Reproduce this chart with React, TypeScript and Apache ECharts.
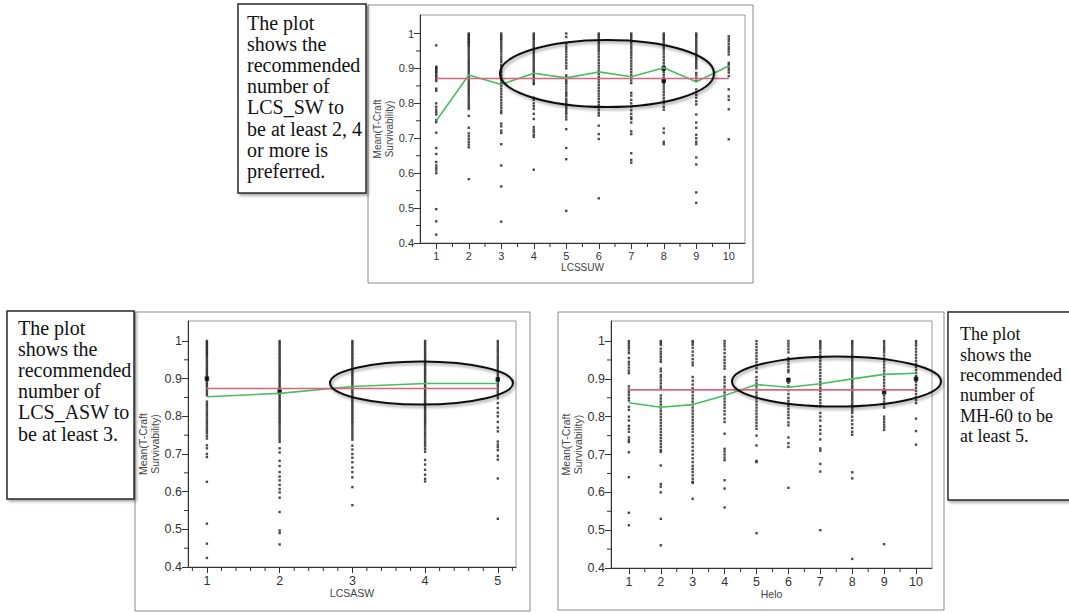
import React, { useEffect, useRef } from 'react';
import * as echarts from 'echarts';

// ---------- DATA ----------
const yMajorTicks = [0.4, 0.5, 0.6, 0.7, 0.8, 0.9, 1.0];
const yMinorTicks = [0.45, 0.55, 0.65, 0.75, 0.85, 0.95];

// Chart 1: LCSSUW
const lcssuwCats = [1, 2, 3, 4, 5, 6, 7, 8, 9, 10];
const lcssuwMinorTicks = [1.5, 2.5, 3.5, 4.5, 5.5, 6.5, 7.5, 8.5, 9.5];
const lcssuwCols = [
  [0.966, 0.905, 0.902, 0.898, 0.894, 0.89, 0.886, 0.88, 0.876, 0.87, 0.864, 0.842, 0.836, 0.8, 0.79, 0.782, 0.775, 0.768, 0.752, 0.746, 0.716, 0.672, 0.655, 0.632, 0.622, 0.615, 0.608, 0.6, 0.497, 0.462, 0.424],
  [1.0, 0.996, 0.992, 0.988, 0.984, 0.98, 0.976, 0.972, 0.968, 0.964, 0.958, 0.952, 0.946, 0.94, 0.934, 0.928, 0.922, 0.916, 0.91, 0.904, 0.898, 0.892, 0.886, 0.88, 0.874, 0.868, 0.862, 0.856, 0.85, 0.844, 0.838, 0.832, 0.826, 0.82, 0.814, 0.808, 0.802, 0.796, 0.79, 0.784, 0.764, 0.73, 0.714, 0.706, 0.698, 0.69, 0.682, 0.674, 0.583],
  [1.0, 0.995, 0.99, 0.985, 0.98, 0.974, 0.968, 0.962, 0.955, 0.948, 0.94, 0.932, 0.925, 0.918, 0.91, 0.904, 0.897, 0.89, 0.882, 0.874, 0.866, 0.858, 0.85, 0.842, 0.834, 0.826, 0.818, 0.81, 0.802, 0.794, 0.786, 0.778, 0.772, 0.742, 0.734, 0.722, 0.715, 0.683, 0.622, 0.562, 0.461],
  [1.0, 0.995, 0.99, 0.985, 0.98, 0.974, 0.968, 0.962, 0.956, 0.95, 0.944, 0.938, 0.932, 0.926, 0.92, 0.914, 0.908, 0.902, 0.896, 0.89, 0.884, 0.878, 0.872, 0.866, 0.86, 0.855, 0.816, 0.81, 0.8, 0.792, 0.784, 0.77, 0.755, 0.732, 0.725, 0.718, 0.71, 0.704, 0.61],
  [1.0, 0.99, 0.97, 0.962, 0.955, 0.948, 0.94, 0.932, 0.924, 0.916, 0.908, 0.9, 0.88, 0.874, 0.868, 0.862, 0.856, 0.848, 0.84, 0.832, 0.826, 0.82, 0.812, 0.806, 0.8, 0.794, 0.788, 0.782, 0.776, 0.77, 0.762, 0.754, 0.726, 0.672, 0.64, 0.492],
  [1.0, 0.995, 0.99, 0.984, 0.978, 0.972, 0.966, 0.96, 0.954, 0.948, 0.94, 0.932, 0.924, 0.916, 0.908, 0.9, 0.892, 0.884, 0.876, 0.868, 0.86, 0.852, 0.844, 0.836, 0.828, 0.82, 0.812, 0.804, 0.796, 0.788, 0.78, 0.772, 0.765, 0.736, 0.712, 0.698, 0.528],
  [1.0, 0.995, 0.99, 0.984, 0.978, 0.972, 0.965, 0.958, 0.951, 0.944, 0.937, 0.93, 0.922, 0.914, 0.906, 0.898, 0.89, 0.882, 0.874, 0.866, 0.858, 0.83, 0.822, 0.81, 0.8, 0.79, 0.78, 0.77, 0.76, 0.755, 0.745, 0.72, 0.712, 0.657, 0.638, 0.63],
  [1.0, 0.995, 0.99, 0.985, 0.98, 0.974, 0.968, 0.962, 0.955, 0.948, 0.94, 0.932, 0.924, 0.916, 0.908, 0.9, 0.896, 0.89, 0.882, 0.874, 0.866, 0.862, 0.856, 0.848, 0.84, 0.832, 0.824, 0.816, 0.808, 0.8, 0.79, 0.782, 0.728, 0.716, 0.69, 0.683],
  [1.0, 0.995, 0.99, 0.984, 0.978, 0.972, 0.966, 0.96, 0.954, 0.948, 0.942, 0.936, 0.93, 0.924, 0.918, 0.912, 0.906, 0.9, 0.887, 0.88, 0.872, 0.864, 0.84, 0.832, 0.824, 0.816, 0.806, 0.797, 0.768, 0.745, 0.73, 0.71, 0.7, 0.69, 0.683, 0.645, 0.625, 0.545, 0.515],
  [0.992, 0.985, 0.978, 0.97, 0.962, 0.955, 0.948, 0.94, 0.916, 0.91, 0.902, 0.895, 0.888, 0.878, 0.84, 0.82, 0.81, 0.783, 0.697],
];
const lcssuwHeavyX = [8, 8];
const lcssuwHeavyY = [0.9, 0.865];
const lcssuwMeans = [0.75, 0.881, 0.854, 0.886, 0.873, 0.89, 0.876, 0.902, 0.862, 0.907];
const lcssuwOverall = 0.871;

// Chart 2: LCSASW
const lcsaswCats = [1, 2, 3, 4, 5];
const lcsaswMinorTicks = [0.8, 1.2, 1.4, 1.6, 1.8, 2.2, 2.4, 2.6, 2.8, 3.2, 3.4, 3.6, 3.8, 4.2, 4.4, 4.6, 4.8, 5.2];
const lcsaswCols = [
  [1.0, 0.996, 0.992, 0.988, 0.984, 0.98, 0.976, 0.972, 0.968, 0.964, 0.96, 0.955, 0.95, 0.945, 0.94, 0.935, 0.93, 0.925, 0.92, 0.915, 0.91, 0.905, 0.9, 0.895, 0.89, 0.885, 0.88, 0.874, 0.868, 0.862, 0.856, 0.839, 0.833, 0.827, 0.821, 0.815, 0.809, 0.803, 0.797, 0.791, 0.785, 0.779, 0.773, 0.767, 0.761, 0.755, 0.748, 0.741, 0.723, 0.715, 0.7, 0.692, 0.626, 0.515, 0.462, 0.424],
  [1.0, 0.995, 0.99, 0.985, 0.98, 0.975, 0.97, 0.965, 0.96, 0.955, 0.95, 0.945, 0.94, 0.935, 0.93, 0.925, 0.92, 0.915, 0.91, 0.905, 0.9, 0.895, 0.89, 0.885, 0.88, 0.875, 0.87, 0.865, 0.86, 0.855, 0.85, 0.845, 0.84, 0.835, 0.83, 0.825, 0.82, 0.815, 0.81, 0.805, 0.8, 0.795, 0.79, 0.785, 0.78, 0.774, 0.768, 0.762, 0.756, 0.75, 0.744, 0.738, 0.732, 0.715, 0.704, 0.682, 0.668, 0.652, 0.64, 0.63, 0.618, 0.607, 0.598, 0.584, 0.546, 0.497, 0.49, 0.46],
  [1.0, 0.995, 0.99, 0.985, 0.98, 0.975, 0.97, 0.965, 0.96, 0.955, 0.95, 0.945, 0.94, 0.935, 0.93, 0.925, 0.92, 0.915, 0.91, 0.905, 0.9, 0.895, 0.89, 0.885, 0.88, 0.875, 0.87, 0.865, 0.86, 0.855, 0.85, 0.845, 0.84, 0.835, 0.83, 0.825, 0.82, 0.815, 0.81, 0.805, 0.8, 0.795, 0.79, 0.785, 0.78, 0.774, 0.768, 0.762, 0.756, 0.75, 0.744, 0.738, 0.722, 0.712, 0.7, 0.69, 0.678, 0.664, 0.652, 0.638, 0.612, 0.564],
  [1.0, 0.995, 0.99, 0.985, 0.98, 0.975, 0.97, 0.965, 0.96, 0.955, 0.95, 0.945, 0.94, 0.935, 0.93, 0.925, 0.92, 0.915, 0.91, 0.905, 0.9, 0.895, 0.89, 0.885, 0.88, 0.875, 0.87, 0.865, 0.86, 0.855, 0.85, 0.845, 0.84, 0.835, 0.83, 0.825, 0.82, 0.815, 0.81, 0.805, 0.8, 0.795, 0.79, 0.785, 0.78, 0.774, 0.768, 0.762, 0.756, 0.75, 0.744, 0.738, 0.732, 0.726, 0.72, 0.713, 0.706, 0.684, 0.672, 0.658, 0.645, 0.634, 0.627],
  [1.0, 0.994, 0.988, 0.982, 0.976, 0.97, 0.964, 0.958, 0.952, 0.946, 0.94, 0.934, 0.928, 0.922, 0.916, 0.91, 0.904, 0.898, 0.892, 0.886, 0.88, 0.874, 0.868, 0.862, 0.855, 0.848, 0.835, 0.822, 0.81, 0.8, 0.785, 0.77, 0.76, 0.733, 0.725, 0.718, 0.71, 0.695, 0.685, 0.635, 0.528],
];
const lcsaswHeavyX = [1, 2, 5];
const lcsaswHeavyY = [0.9, 0.865, 0.898];
const lcsaswMeans = [0.852, 0.861, 0.879, 0.887, 0.887];
const lcsaswOverall = 0.874;

// Chart 3: Helo
const heloCats = [1, 2, 3, 4, 5, 6, 7, 8, 9, 10];
const heloMinorTicks = [1.5, 2.5, 3.5, 4.5, 5.5, 6.5, 7.5, 8.5, 9.5];
const heloCols = [
  [1.0, 0.994, 0.988, 0.982, 0.975, 0.968, 0.955, 0.945, 0.938, 0.93, 0.922, 0.915, 0.88, 0.872, 0.865, 0.858, 0.85, 0.843, 0.826, 0.818, 0.8, 0.79, 0.776, 0.768, 0.76, 0.745, 0.738, 0.733, 0.706, 0.64, 0.546, 0.513],
  [1.0, 0.995, 0.99, 0.98, 0.972, 0.965, 0.958, 0.951, 0.945, 0.927, 0.92, 0.91, 0.904, 0.896, 0.888, 0.88, 0.874, 0.856, 0.848, 0.84, 0.832, 0.824, 0.816, 0.808, 0.8, 0.792, 0.784, 0.776, 0.768, 0.76, 0.752, 0.744, 0.736, 0.728, 0.72, 0.712, 0.707, 0.671, 0.622, 0.615, 0.6, 0.53, 0.46],
  [1.0, 0.996, 0.99, 0.982, 0.972, 0.962, 0.952, 0.943, 0.936, 0.905, 0.895, 0.885, 0.875, 0.865, 0.856, 0.848, 0.84, 0.832, 0.824, 0.816, 0.808, 0.8, 0.792, 0.784, 0.776, 0.768, 0.76, 0.75, 0.74, 0.73, 0.72, 0.71, 0.7, 0.69, 0.68, 0.67, 0.662, 0.654, 0.645, 0.636, 0.628, 0.625, 0.583],
  [1.0, 0.993, 0.986, 0.978, 0.968, 0.958, 0.95, 0.942, 0.934, 0.927, 0.905, 0.897, 0.889, 0.88, 0.872, 0.864, 0.856, 0.848, 0.84, 0.832, 0.824, 0.815, 0.806, 0.795, 0.786, 0.755, 0.715, 0.708, 0.7, 0.692, 0.685, 0.632, 0.61, 0.56],
  [1.0, 0.992, 0.984, 0.976, 0.968, 0.96, 0.952, 0.944, 0.936, 0.928, 0.918, 0.905, 0.896, 0.888, 0.88, 0.872, 0.864, 0.856, 0.848, 0.84, 0.832, 0.824, 0.816, 0.808, 0.8, 0.792, 0.784, 0.776, 0.768, 0.75, 0.724, 0.683, 0.68, 0.492],
  [1.0, 0.993, 0.986, 0.978, 0.97, 0.955, 0.948, 0.94, 0.932, 0.924, 0.918, 0.9, 0.89, 0.88, 0.87, 0.86, 0.85, 0.842, 0.835, 0.828, 0.82, 0.812, 0.804, 0.796, 0.785, 0.777, 0.745, 0.73, 0.72, 0.612],
  [1.0, 0.995, 0.99, 0.984, 0.978, 0.97, 0.962, 0.955, 0.948, 0.94, 0.932, 0.924, 0.916, 0.908, 0.9, 0.892, 0.884, 0.876, 0.868, 0.86, 0.852, 0.844, 0.836, 0.828, 0.81, 0.8, 0.79, 0.775, 0.765, 0.755, 0.74, 0.716, 0.71, 0.675, 0.655, 0.5],
  [1.0, 0.995, 0.99, 0.984, 0.978, 0.972, 0.966, 0.96, 0.954, 0.948, 0.942, 0.936, 0.93, 0.924, 0.918, 0.912, 0.906, 0.9, 0.894, 0.888, 0.882, 0.876, 0.87, 0.864, 0.858, 0.852, 0.846, 0.84, 0.834, 0.828, 0.822, 0.816, 0.81, 0.8, 0.79, 0.78, 0.77, 0.76, 0.752, 0.653, 0.637, 0.424],
  [1.0, 0.994, 0.988, 0.982, 0.976, 0.97, 0.962, 0.954, 0.946, 0.938, 0.93, 0.922, 0.914, 0.906, 0.898, 0.89, 0.882, 0.874, 0.865, 0.856, 0.848, 0.84, 0.832, 0.824, 0.8, 0.793, 0.786, 0.779, 0.772, 0.765, 0.463],
  [1.0, 0.994, 0.988, 0.98, 0.972, 0.964, 0.956, 0.948, 0.94, 0.932, 0.924, 0.916, 0.908, 0.9, 0.892, 0.884, 0.876, 0.868, 0.86, 0.852, 0.844, 0.836, 0.795, 0.762, 0.726],
];
const heloHeavyX = [6, 9, 10];
const heloHeavyY = [0.897, 0.865, 0.9];
const heloMeans = [0.837, 0.825, 0.832, 0.856, 0.885, 0.878, 0.887, 0.9, 0.912, 0.915];
const heloOverall = 0.871;

const yTitle = 'Mean(T-Craft\nSurvivability)';
const note1 = 'The plot\nshows the\nrecommended\nnumber of\nLCS_SW to\nbe at least 2, 4\nor more is\npreferred.';
const note2 = 'The plot\nshows the\nrecommended\nnumber of\nLCS_ASW to\nbe at least 3.';
const note3 = 'The plot\nshows the\nrecommended\nnumber of\nMH-60 to be\nat least 5.';

// ---------- STYLE / LAYOUT ----------
const GREEN = '#45c060';
const RED = '#e0627c';
const DOT = '#1c1c1c';
const AXIS = '#333333';
const SANS = '"Liberation Sans", Arial, sans-serif';
const SERIF = '"Liberation Serif", "Times New Roman", serif';
const Y_MIN = 0.4;
const Y_MAX = 1.053;
const MINOR_LEN = 4;

interface PanelCfg {
  cats: number[];
  minor: number[];
  cols: number[][];
  heavyX: number[];
  heavyY: number[];
  means: number[];
  overall: number;
  xName: string;
  grid: { left: number; top: number; width: number; height: number };
  xMin: number;
  xMax: number;
  tickFont: number;
  titleFont: number;
  yGap: number;
  xGap: number;
}

const panels: PanelCfg[] = [
  {
    cats: lcssuwCats, minor: lcssuwMinorTicks, cols: lcssuwCols, heavyX: lcssuwHeavyX, heavyY: lcssuwHeavyY,
    means: lcssuwMeans, overall: lcssuwOverall, xName: 'LCSSUW',
    grid: { left: 420, top: 15, width: 325, height: 228 }, xMin: 0.5, xMax: 10.5,
    tickFont: 11, titleFont: 10, yGap: 22, xGap: 19,
  },
  {
    cats: lcsaswCats, minor: lcsaswMinorTicks, cols: lcsaswCols, heavyX: lcsaswHeavyX, heavyY: lcsaswHeavyY,
    means: lcsaswMeans, overall: lcsaswOverall, xName: 'LCSASW',
    grid: { left: 188, top: 321, width: 328, height: 246 }, xMin: 0.74, xMax: 5.25,
    tickFont: 12.5, titleFont: 10.5, yGap: 19, xGap: 18,
  },
  {
    cats: heloCats, minor: heloMinorTicks, cols: heloCols, heavyX: heloHeavyX, heavyY: heloHeavyY,
    means: heloMeans, overall: heloOverall, xName: 'Helo',
    grid: { left: 611, top: 321, width: 321, height: 247 }, xMin: 0.44, xMax: 10.5,
    tickFont: 12.5, titleFont: 10.5, yGap: 19, xGap: 20,
  },
];

// minor tick renderers (custom series): dir 'x' = below the x axis, 'y' = left of the y axis
const tickRenderer = (dir: 'x' | 'y') => (_params: any, api: any) => {
  const pt = api.coord([api.value(0), api.value(1)]);
  const shape = dir === 'x'
    ? { x1: pt[0], y1: pt[1], x2: pt[0], y2: pt[1] + MINOR_LEN }
    : { x1: pt[0], y1: pt[1], x2: pt[0] - MINOR_LEN, y2: pt[1] };
  return { type: 'line', shape, style: { stroke: AXIS, lineWidth: 1 } };
};

function buildOption() {
  const grids: any[] = [];
  const xAxes: any[] = [];
  const yAxes: any[] = [];
  const series: any[] = [];

  panels.forEach((p, i) => {
    grids.push({
      ...p.grid,
      show: true,
      borderColor: '#9a9a9a',
      borderWidth: 1,
      backgroundColor: 'transparent',
    });
    const axisLine = { show: true, onZero: false, lineStyle: { color: AXIS, width: 1 } };
    xAxes.push({
      gridIndex: i, type: 'value', min: p.xMin, max: p.xMax, position: 'bottom',
      axisLine,
      axisTick: { show: true, customValues: p.cats, length: 6, lineStyle: { color: AXIS } },
      axisLabel: { customValues: p.cats, fontSize: p.tickFont, color: '#333', fontFamily: SANS, margin: 7 },
      splitLine: { show: false },
      name: p.xName, nameLocation: 'middle', nameGap: p.xGap,
      nameTextStyle: { fontSize: p.titleFont, color: '#444', fontFamily: SANS },
    });
    yAxes.push({
      gridIndex: i, type: 'value', min: Y_MIN, max: Y_MAX, position: 'left',
      axisLine,
      axisTick: { show: true, customValues: yMajorTicks, length: 6, lineStyle: { color: AXIS } },
      axisLabel: {
        customValues: yMajorTicks, fontSize: p.tickFont, color: '#333', fontFamily: SANS, margin: 6,
        formatter: (v: number) => (Math.abs(v - 1) < 1e-9 ? '1' : String(Math.round(v * 10) / 10)),
      },
      splitLine: { show: false },
      name: yTitle, nameLocation: 'middle', nameGap: p.yGap, nameRotate: 90,
      nameTextStyle: { fontSize: p.titleFont, color: '#444', fontFamily: SANS, lineHeight: p.titleFont + 1.5 },
    });

    series.push({
      type: 'custom', xAxisIndex: i, yAxisIndex: i, clip: false, silent: true, z: 6,
      data: p.minor.map((m) => [m, Y_MIN]),
      encode: { x: 0, y: 1 },
      renderItem: tickRenderer('x'),
    });
    series.push({
      type: 'custom', xAxisIndex: i, yAxisIndex: i, clip: false, silent: true, z: 6,
      data: yMinorTicks.map((m) => [p.xMin, m]),
      encode: { x: 0, y: 1 },
      renderItem: tickRenderer('y'),
    });

    const pts: number[][] = [];
    p.cols.forEach((col, ci) => col.forEach((v) => pts.push([p.cats[ci], v])));
    series.push({
      type: 'scatter', xAxisIndex: i, yAxisIndex: i, data: pts,
      symbol: 'rect', symbolSize: 2.4, itemStyle: { color: DOT }, silent: true, z: 2,
    });
    series.push({
      type: 'scatter', xAxisIndex: i, yAxisIndex: i,
      data: p.heavyX.map((x, k) => [x, p.heavyY[k]]),
      symbol: 'rect', symbolSize: 4.5, itemStyle: { color: '#000' }, silent: true, z: 3,
    });
    series.push({
      type: 'line', xAxisIndex: i, yAxisIndex: i,
      data: p.cats.map((c, k) => [c, p.means[k]]),
      symbol: 'none', lineStyle: { color: GREEN, width: 1.6 }, silent: true, z: 4,
    });
    series.push({
      type: 'line', xAxisIndex: i, yAxisIndex: i,
      data: [[p.cats[0], p.overall], [p.cats[p.cats.length - 1], p.overall]],
      symbol: 'none', lineStyle: { color: RED, width: 1.6 }, silent: true, z: 5,
    });
  });

  const frame = (x: number, y: number, w: number, h: number) => ({
    type: 'rect', z: 0, silent: true,
    shape: { x, y, width: w, height: h },
    style: { fill: 'none', stroke: '#8a8a8a', lineWidth: 1 },
  });
  const noteBox = (x: number, y: number, w: number, h: number) => ({
    type: 'rect', z: 1, silent: true,
    shape: { x, y, width: w, height: h },
    style: {
      fill: '#fff', stroke: '#2a2a2a', lineWidth: 1.5,
      shadowBlur: 3, shadowColor: 'rgba(0,0,0,0.35)', shadowOffsetX: 2, shadowOffsetY: 2,
    },
  });
  const noteText = (x: number, y: number, text: string, size: number, lh: number) => ({
    type: 'text', z: 2, silent: true, x, y,
    style: { text, fill: '#111', fontFamily: SERIF, fontSize: size, lineHeight: lh, align: 'left', verticalAlign: 'top' },
  });
  const ellipse = (cx: number, cy: number, rx: number, ry: number) => ({
    type: 'ellipse', z: 50, silent: true,
    shape: { cx, cy, rx, ry },
    style: {
      fill: 'none', stroke: '#111', lineWidth: 2,
      shadowBlur: 3, shadowColor: 'rgba(0,0,0,0.4)', shadowOffsetX: 1.5, shadowOffsetY: 2,
    },
  });

  const graphic = [
    frame(368, 5, 385, 278),
    frame(135, 312, 395, 299),
    frame(558, 312, 386, 298),
    noteBox(238, 4, 128, 189),
    noteBox(7, 311, 127, 188),
    noteBox(948, 312, 130, 188),
    noteText(247, 12, note1, 20, 21.2),
    noteText(18, 317, note2, 20, 21.2),
    noteText(960, 324, note3, 18, 20.4),
    ellipse(607, 73.5, 107, 33.5),
    ellipse(421.5, 383, 91.5, 21.5),
    ellipse(836.5, 381.5, 104.5, 25),
  ];

  return {
    animation: false,
    backgroundColor: '#fff',
    grid: grids,
    xAxis: xAxes,
    yAxis: yAxes,
    series,
    graphic,
  };
}

export default function App() {
  const ref = useRef<HTMLDivElement>(null);
  useEffect(() => {
    if (!ref.current) return;
    const chart = echarts.init(ref.current, undefined, { renderer: 'svg' });
    chart.setOption(buildOption() as any);
    return () => chart.dispose();
  }, []);
  return (
    <div
      ref={ref}
      style={{ position: 'absolute', left: 0, top: 0, width: 1069, height: 613, background: '#fff' }}
    />
  );
}
